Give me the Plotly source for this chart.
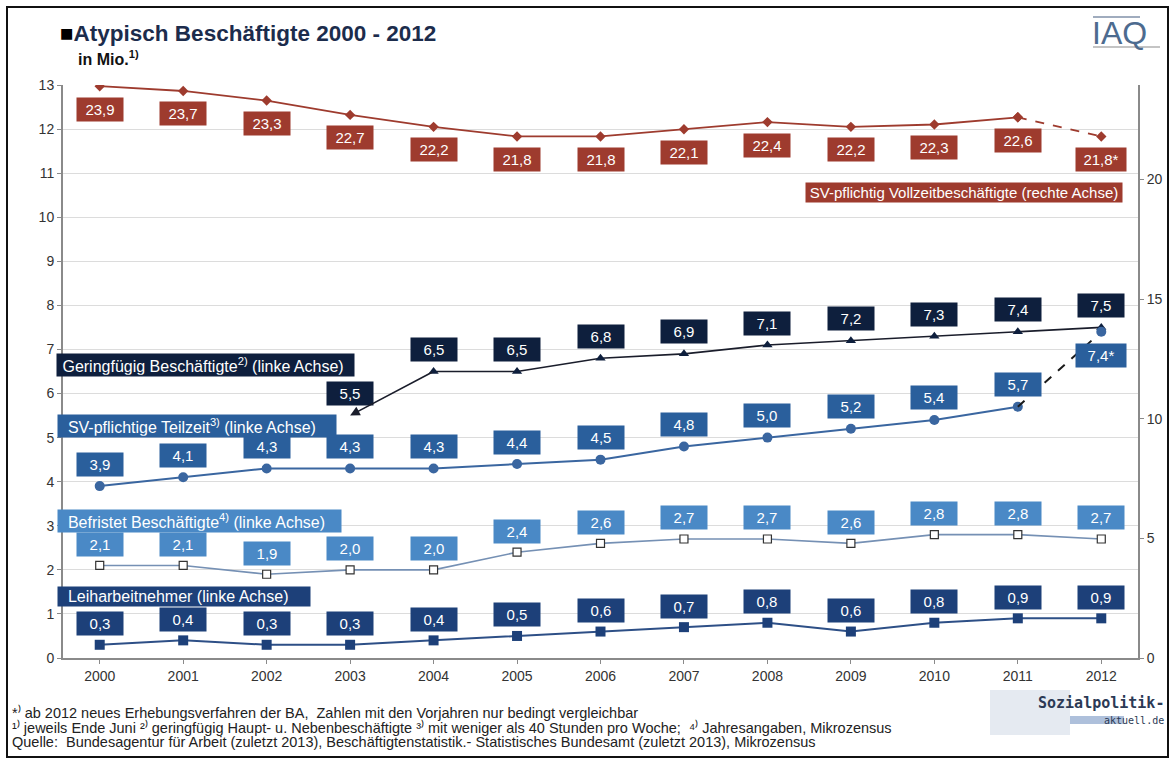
import plotly.graph_objects as go

years = [2000, 2001, 2002, 2003, 2004, 2005, 2006, 2007, 2008, 2009, 2010, 2011, 2012]
vollzeit = [23.9, 23.7, 23.3, 22.7, 22.2, 21.8, 21.8, 22.1, 22.4, 22.2, 22.3, 22.6, 21.8]
geringfuegig = [None, None, None, 5.5, 6.5, 6.5, 6.8, 6.9, 7.1, 7.2, 7.3, 7.4, 7.5]
teilzeit = [3.9, 4.1, 4.3, 4.3, 4.3, 4.4, 4.5, 4.8, 5.0, 5.2, 5.4, 5.7, 7.4]
befristet = [2.1, 2.1, 1.9, 2.0, 2.0, 2.4, 2.6, 2.7, 2.7, 2.6, 2.8, 2.8, 2.7]
leiharbeit = [0.3, 0.4, 0.3, 0.3, 0.4, 0.5, 0.6, 0.7, 0.8, 0.6, 0.8, 0.9, 0.9]
left_ticks = list(range(0, 14))
right_ticks = [0, 5, 10, 15, 20]

C_VZ = "#9e3b2e"
C_GF = "#0e1f3d"
C_TZ = "#2a5f9c"
C_BF = "#4a89c6"
C_LA = "#1d4079"

FONT = "Liberation Sans, Arial, sans-serif"

fig = go.Figure()

# SV Vollzeit (right axis)
fig.add_trace(go.Scatter(x=years[:12], y=vollzeit[:12], yaxis="y2", mode="lines+markers",
                         line=dict(color=C_VZ, width=1.8),
                         marker=dict(symbol="diamond", size=8, color=C_VZ)))
fig.add_trace(go.Scatter(x=years[11:], y=vollzeit[11:], yaxis="y2", mode="lines+markers",
                         line=dict(color=C_VZ, width=1.8, dash="dash"),
                         marker=dict(symbol="diamond", size=8, color=C_VZ)))
# Geringfuegig
fig.add_trace(go.Scatter(x=years[4:], y=geringfuegig[4:], mode="lines+markers",
                         line=dict(color="#1a1d2b", width=1.6),
                         marker=dict(symbol="triangle-up", size=9, color=C_GF)))
# Teilzeit
fig.add_trace(go.Scatter(x=years[:12], y=teilzeit[:12], mode="lines+markers",
                         line=dict(color="#3a66a0", width=2),
                         marker=dict(symbol="circle", size=10, color="#3a66a0")))
fig.add_trace(go.Scatter(x=years[11:], y=teilzeit[11:], mode="lines",
                         line=dict(color="#1a1a1a", width=2, dash="dash")))
fig.add_trace(go.Scatter(x=years[12:], y=teilzeit[12:], mode="markers",
                         marker=dict(symbol="circle", size=10, color="#3a66a0")))
# Befristet
fig.add_trace(go.Scatter(x=years, y=befristet, mode="lines+markers",
                         line=dict(color="#7590b4", width=1.6),
                         marker=dict(symbol="square", size=8, color="white",
                                     line=dict(color="#333333", width=1.2))))
# Leiharbeit
fig.add_trace(go.Scatter(x=years, y=leiharbeit, mode="lines+markers",
                         line=dict(color="#2d4f86", width=2),
                         marker=dict(symbol="square", size=10, color=C_LA)))

annotations = []


def fmt(v, star=False):
    s = ("%.1f" % v).replace(".", ",")
    return s + ("*" if star else "")


def label(x, y, text, color, yshift, yref="y"):
    annotations.append(dict(x=x, y=y, xref="x", yref=yref, text=text, showarrow=False,
                            yshift=yshift, bgcolor=color, borderpad=3,
                            width=40 if "*" not in text else 44,
                            font=dict(family=FONT, size=15, color="white")))


for i, yr in enumerate(years):
    label(yr, vollzeit[i], fmt(vollzeit[i], i == 12), C_VZ, -23, "y2")
    if geringfuegig[i] is not None:
        label(yr, geringfuegig[i], fmt(geringfuegig[i]), C_GF, 22)
    if i == 12:
        label(yr, teilzeit[i], fmt(teilzeit[i], True), C_TZ, -24)
    else:
        label(yr, teilzeit[i], fmt(teilzeit[i]), C_TZ, 22)
    label(yr, befristet[i], fmt(befristet[i]), C_BF, 21)
    label(yr, leiharbeit[i], fmt(leiharbeit[i]), C_LA, 21)

# arrow for 2003 Geringfuegig
annotations.append(dict(x=years[3], y=geringfuegig[3], xref="x", yref="y",
                        ax=years[4], ay=geringfuegig[4], axref="x", ayref="y",
                        text="", showarrow=True, arrowhead=2, arrowsize=1.2,
                        arrowwidth=1.6, arrowcolor="#1a1d2b", standoff=0))

# Plot area: l=63, r=36, t=85, b=105 -> 1075 x 573 px
def px(xp):
    return (xp - 63) / 1075.0


def py(yp):
    return (658 - yp) / 573.0


def series_box(x_left, y_center, width, text, color, size=16):
    annotations.append(dict(x=px(x_left), y=py(y_center), xref="paper", yref="paper",
                            xanchor="left", yanchor="middle", text=text, showarrow=False,
                            bgcolor=color, borderpad=1, width=width, align="left",
                            font=dict(family=FONT, size=size, color="white")))


series_box(56, 365, 295, " Geringfügig Beschäftigte<sup>2)</sup> (linke Achse)", C_GF)
series_box(57, 426, 276, "  SV-pflichtige Teilzeit<sup>3)</sup> (linke Achse)", C_TZ)
series_box(57, 521, 281, "  Befristet Beschäftigte<sup>4)</sup> (linke Achse)", C_BF)
series_box(57, 596, 250, "  Leiharbeitnehmer (linke Achse)", C_LA)
annotations.append(dict(x=px(1123), y=py(192), xref="paper", yref="paper",
                        xanchor="right", yanchor="middle",
                        text="SV-pflichtig Vollzeitbeschäftigte (rechte Achse)",
                        showarrow=False, bgcolor=C_VZ, borderpad=1, width=314,
                        font=dict(family=FONT, size=15, color="white")))

# Title
annotations.append(dict(x=px(58), y=py(34), xref="paper", yref="paper", xanchor="left",
                        yanchor="middle", showarrow=False,
                        text="<b><span style='color:#000000'>■</span>Atypisch Beschäftigte 2000 - 2012</b>",
                        font=dict(family=FONT, size=22.5, color="#1c2c4c")))
annotations.append(dict(x=px(76), y=py(58), xref="paper", yref="paper", xanchor="left",
                        yanchor="middle", showarrow=False,
                        text="<b>in Mio.<sup>1)</sup></b>",
                        font=dict(family=FONT, size=16, color="#111111")))
# IAQ logo
annotations.append(dict(x=px(1119), y=py(33), xref="paper", yref="paper", xanchor="center",
                        yanchor="middle", showarrow=False, text="IAQ",
                        font=dict(family=FONT, size=32, color="#4d6b8f")))

# Footnotes (unicode superscripts keep line heights equal)
foot = [
    (712, "*⁾ ab 2012 neues Erhebungsverfahren der BA,  Zahlen mit den Vorjahren nur bedingt vergleichbar"),
    (727, "¹⁾ jeweils Ende Juni ²⁾ geringfügig Haupt- u. Nebenbeschäftigte ³⁾ mit weniger als 40 Stunden pro Woche;  ⁴⁾ Jahresangaben, Mikrozensus"),
    (742, "Quelle:  Bundesagentur für Arbeit (zuletzt 2013), Beschäftigtenstatistik.- Statistisches Bundesamt (zuletzt 2013), Mikrozensus"),
]
for yp, t in foot:
    annotations.append(dict(x=px(10), y=py(yp), xref="paper", yref="paper", xanchor="left",
                            yanchor="middle", showarrow=False, text=t,
                            font=dict(family=FONT, size=14.5, color="#222222")))

# Sozialpolitik logo
annotations.append(dict(x=px(1166), y=py(703), xref="paper", yref="paper", xanchor="right",
                        yanchor="middle", showarrow=False, text="<b>Sozialpolitik-</b>",
                        font=dict(family="DejaVu Sans Mono, monospace", size=15, color="#2c3a55")))
annotations.append(dict(x=px(1166), y=py(720), xref="paper", yref="paper", xanchor="right",
                        yanchor="middle", showarrow=False, text="aktuell.de",
                        font=dict(family="DejaVu Sans Mono, monospace", size=10, color="#2c3a55")))

shapes = [
    dict(type="rect", xref="paper", yref="paper", x0=px(7), x1=px(1168), y0=py(757), y1=py(7),
         line=dict(color="#111111", width=2), layer="below"),
    dict(type="rect", xref="paper", yref="paper", x0=px(990), x1=px(1070), y0=py(735), y1=py(690),
         line=dict(width=0), fillcolor="rgba(150,170,200,0.25)", layer="below"),
    dict(type="rect", xref="paper", yref="paper", x0=px(1070), x1=px(1124), y0=py(724), y1=py(716),
         line=dict(width=0), fillcolor="rgba(120,150,195,0.6)", layer="below"),
    dict(type="line", xref="paper", yref="paper", x0=px(1093), x1=px(1140), y0=py(17), y1=py(17),
         line=dict(color="#8090a8", width=1.5)),
    dict(type="line", xref="paper", yref="paper", x0=px(1093), x1=px(1160), y0=py(47), y1=py(47),
         line=dict(color="#b0b0b0", width=1.5)),
]

fig.update_layout(
    width=1174, height=763,
    margin=dict(l=63, r=36, t=85, b=105),
    paper_bgcolor="white", plot_bgcolor="white",
    showlegend=False,
    font=dict(family=FONT, size=14, color="#333333"),
    xaxis=dict(range=[1999.56, 2012.44], tickvals=years, ticktext=[str(y) for y in years],
               showline=True, linecolor="#8a8a8a", linewidth=2, ticks="outside", ticklen=4,
               tickcolor="#8a8a8a", showgrid=False, zeroline=False,
               tickfont=dict(size=14, color="#333333")),
    yaxis=dict(range=[0, 13], tickvals=left_ticks, showline=True, linecolor="#8a8a8a",
               linewidth=2, ticks="outside", ticklen=4, tickcolor="#8a8a8a",
               showgrid=True, gridcolor="#dcdcdc", gridwidth=1, zeroline=False,
               tickfont=dict(size=14, color="#333333")),
    yaxis2=dict(range=[0, 23.95], tickvals=right_ticks, overlaying="y", side="right",
                showline=True, linecolor="#8a8a8a", linewidth=2, ticks="outside", ticklen=4,
                tickcolor="#8a8a8a", showgrid=False, zeroline=False,
                tickfont=dict(size=14, color="#333333")),
    annotations=annotations,
    shapes=shapes,
)

fig.write_html("out.html", config={"displayModeBar": False},
               post_script="document.body.style.margin='0';document.body.style.overflow='hidden';")
